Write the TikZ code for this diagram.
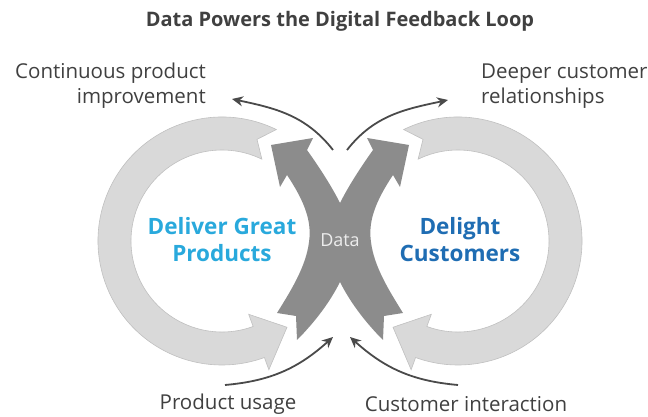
\documentclass[tikz,border=0pt]{standalone}
\usepackage{fontspec}
\setmainfont{Open Sans}
\usetikzlibrary{arrows.meta}

\definecolor{loopfill}{HTML}{D9D9D9}
\definecolor{loopedge}{HTML}{C0C0C0}
\definecolor{xfill}{HTML}{8C8C8C}
\definecolor{wire}{HTML}{4A4A4A}
\definecolor{labeltext}{HTML}{404040}
\definecolor{cyanblue}{HTML}{29A9DC}
\definecolor{deepblue}{HTML}{1F6DB3}

\tikzset{
  % light grey loop: notched tail at the top, arrowhead at the lower right
  loopshape/.pic={
    \path[fill=loopfill, draw=loopedge, line width=0.6pt]
      (64:124) arc[start angle=64, end angle=290, radius=124]
      -- (290:137) -- (307:108) -- (290:78) -- (290:91)
      arc[start angle=290, end angle=64, radius=91]
      -- (71:107.5) -- cycle;
  },
  wirearrow/.style={draw=wire, line width=1.8pt,
    -{Stealth[length=11pt, width=10pt]}},
  lbl/.style={text=labeltext, inner sep=0pt,
    font=\fontsize{20.5}{25}\selectfont},
  headline/.style={text=labeltext, inner sep=0pt,
    font=\bfseries\fontsize{20}{24}\selectfont},
  bigword/.style={inner sep=0pt, align=center,
    font=\bfseries\fontsize{22.5}{27}\selectfont},
  datatext/.style={text=white!93!black, inner sep=0pt,
    font=\fontsize{18}{20}\selectfont},
}

\begin{document}
\begin{tikzpicture}[x=1pt, y=1pt]
  \useasboundingbox (0,0) rectangle (648,417);

  % the two feedback loops
  \pic (leftloop) at (222,176) {loopshape};
  \pic[xscale=-1] (rightloop) at (458,176) {loopshape};

  % crossing data arrows
  \fill[xfill]
    (271,272) -- (313,279) -- (307,267)
    .. controls (322,246) and (333,228) .. (340,214)
    .. controls (347,228) and (358,246) .. (373,267)
    -- (367,279) -- (409,272) -- (400,230) -- (393,242)
    .. controls (375,215) and (368,195) .. (371,175)
    .. controls (374,150) and (390,125) .. (403,104)
    -- (384,101) -- (383,77)
    .. controls (365,95) and (350,115) .. (340,135)
    .. controls (330,115) and (315,95) .. (297,77)
    -- (296,101) -- (277,104)
    .. controls (290,125) and (306,150) .. (309,175)
    .. controls (312,195) and (305,215) .. (287,242)
    -- (280,230) -- cycle;

  % texts
  \node[headline] (title) at (340,396) {Data Powers the Digital Feedback Loop};
  \node[lbl, anchor=east, align=right] (improve) at (206,331)
    {Continuous product\\improvement};
  \node[lbl, anchor=west, align=left] (relations) at (481,331)
    {Deeper customer\\relationships};
  \node[lbl] (usage) at (228,13) {Product usage};
  \node[lbl] (interact) at (466,13) {Customer interaction};
  \node[bigword, text=cyanblue] (products) at (222,177) {Deliver Great\\Products};
  \node[bigword, text=deepblue] (customers) at (460,177) {Delight\\Customers};
  \node[datatext] (data) at (340,177) {Data};

  % connector end points
  \coordinate (outL) at (333,267);
  \coordinate (outR) at (347,267);
  \coordinate (tipL) at (232,318);
  \coordinate (tipR) at (448,317);
  \coordinate (inL) at (225,32);
  \coordinate (inR) at (458,32);
  \coordinate (tipInL) at (333,80);
  \coordinate (tipInR) at (350,80);

  % thin feedback connectors
  \draw[wirearrow] (outL) to[out=128, in=-12] (tipL);
  \draw[wirearrow] (outR) to[out=52, in=192] (tipR);
  \draw[wirearrow] (inL) to[out=5, in=222] (tipInL);
  \draw[wirearrow] (inR) to[out=175, in=-42] (tipInR);
\end{tikzpicture}
\end{document}
